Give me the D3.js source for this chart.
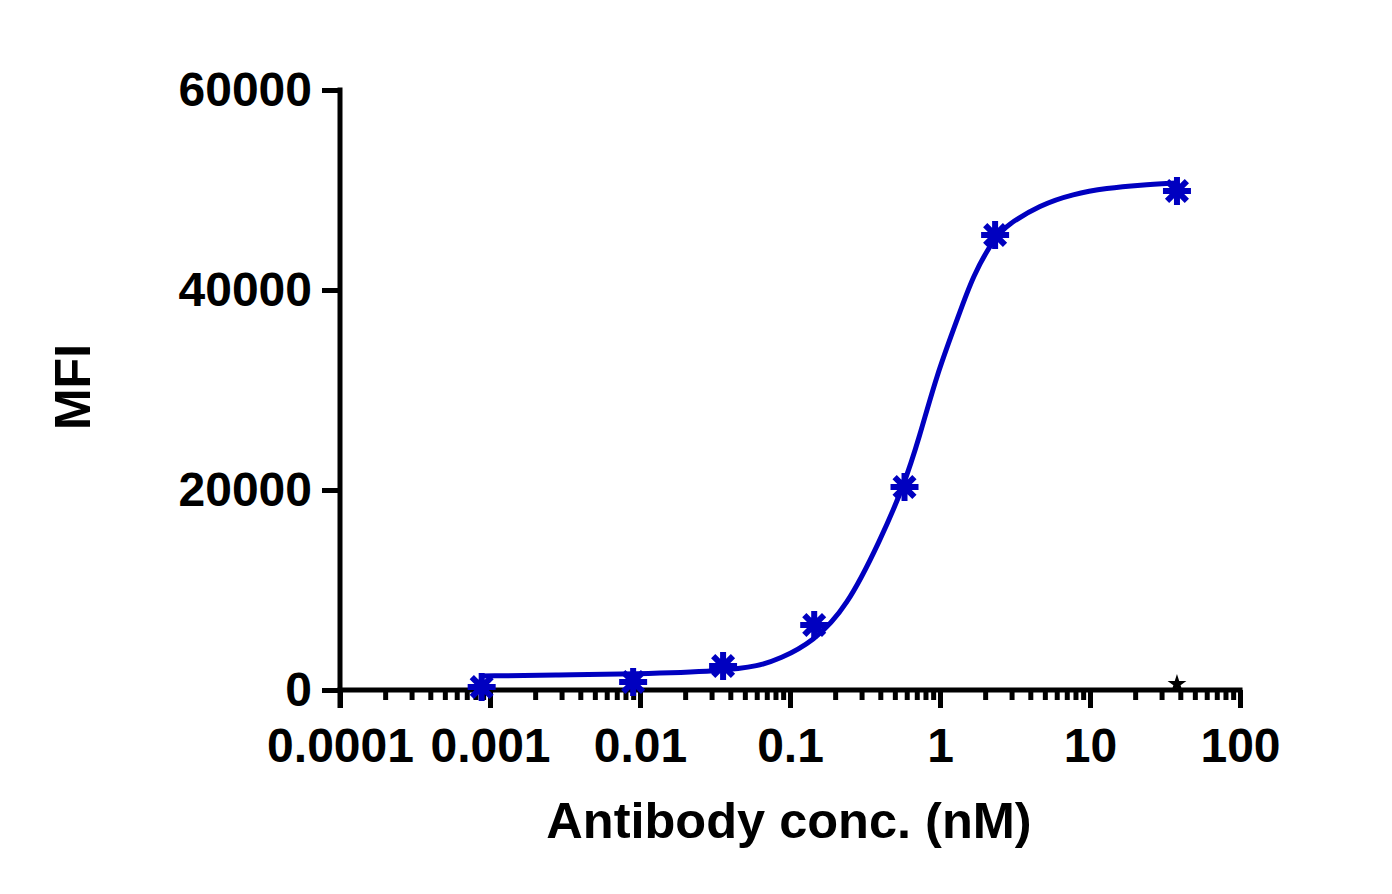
<!DOCTYPE html>
<html>
<head>
<meta charset="utf-8">
<script src="https://cdn.jsdelivr.net/npm/d3@7"></script>
<style>
  body { margin: 0; background: #fff; }
  text { font-family: "Liberation Sans", Arial, sans-serif; font-weight: bold; }
</style>
</head>
<body>
<div id="graphe"></div>
<script>
// donnees
var conc = [0.00088, 0.0090, 0.0358, 0.145, 0.58, 2.33, 38];
var mfi = [300, 800, 2400, 6500, 20300, 45500, 49900];

// controle (etoile noire)
var ctrlConc = [38];
var ctrlMfi = [600];

// courbe ajustee (points relevés le long du trait)
var fitConc = [0.00088, 0.0029, 0.0091, 0.0358, 0.062, 0.0852, 0.1425, 0.24, 0.40, 0.57, 0.73, 0.95, 1.30, 1.66, 2.33, 2.80, 4.64, 7.7, 13.0, 21.5, 38];
var fitMfi = [1400, 1500, 1600, 1900, 2400, 3100, 4800, 8300, 15000, 20300, 25300, 31500, 37000, 41500, 45300, 46500, 48500, 49600, 50200, 50500, 50700];

var xTicks = [0.0001, 0.001, 0.01, 0.1, 1, 10, 100];
var xTickLabels = ["0.0001", "0.001", "0.01", "0.1", "1", "10", "100"];
var yTicks = [0, 20000, 40000, 60000];

var width = 1392,
    height = 894,
    blue = "#0000c0";

var svg = d3.select("#graphe").append("svg")
    .attr("width", width)
    .attr("height", height);

var x = d3.scaleLog().domain([0.0001, 100]).range([340, 1240]);
var y = d3.scaleLinear().domain([0, 60000]).range([690, 90]);

// graduations mineures 2..9 de chaque decade
var minorTicks = [];
for (var d = -4; d < 2; d++) {
    for (var k = 2; k <= 9; k++) minorTicks.push(k * Math.pow(10, d));
}

// axe X mineur
svg.append("g")
    .attr("transform", "translate(0,690)")
    .call(d3.axisBottom(x).tickValues(minorTicks).tickSize(10).tickSizeOuter(0).tickFormat(""))
    .call(function(g) {
        g.select(".domain").remove();
        g.selectAll("line").attr("stroke", "#000").attr("stroke-width", 5);
    });

// axe X majeur
svg.append("g")
    .attr("transform", "translate(0,690)")
    .call(d3.axisBottom(x).tickValues(xTicks).tickSize(18).tickSizeOuter(0).tickPadding(20)
        .tickFormat(function(d, i) { return xTickLabels[i]; }))
    .call(function(g) {
        g.select(".domain").attr("stroke", "#000").attr("stroke-width", 5)
            .attr("d", "M337.5,0H1242.5");
        g.selectAll("line").attr("stroke", "#000").attr("stroke-width", 5);
        g.selectAll("text").attr("font-size", 48).attr("fill", "#000")
            .style("font-family", "'Liberation Sans', Arial, sans-serif").style("font-weight", "bold");
    });

// axe Y
svg.append("g")
    .attr("transform", "translate(340,0)")
    .call(d3.axisLeft(y).tickValues(yTicks).tickSize(18).tickSizeOuter(0).tickPadding(10)
        .tickFormat(d3.format("d")))
    .call(function(g) {
        g.select(".domain").attr("stroke", "#000").attr("stroke-width", 5)
            .attr("d", "M0,87.5V708");
        g.selectAll("line").attr("stroke", "#000").attr("stroke-width", 5);
        g.selectAll("text").attr("font-size", 48).attr("fill", "#000")
            .style("font-family", "'Liberation Sans', Arial, sans-serif").style("font-weight", "bold");
    });

// courbe
var fit = fitConc.map(function(c, i) { return [c, fitMfi[i]]; });
var line = d3.line()
    .x(function(d) { return x(d[0]); })
    .y(function(d) { return y(d[1]); })
    .curve(d3.curveBasis);

svg.append("path")
    .datum(fit)
    .attr("d", line)
    .attr("fill", "none")
    .attr("stroke", blue)
    .attr("stroke-width", 5);

// asterisques 8 branches
function asterisk(r) {
    var p = d3.path(), a = r * Math.SQRT1_2;
    p.moveTo(0, -r); p.lineTo(0, r);
    p.moveTo(-r, 0); p.lineTo(r, 0);
    p.moveTo(-a, -a); p.lineTo(a, a);
    p.moveTo(-a, a); p.lineTo(a, -a);
    return p.toString();
}

svg.selectAll(".pt")
    .data(conc)
    .enter()
    .append("path")
    .attr("class", "pt")
    .attr("transform", function(d, i) { return "translate(" + x(d) + "," + y(mfi[i]) + ")"; })
    .attr("d", asterisk(14))
    .attr("stroke", blue)
    .attr("stroke-width", 6)
    .attr("fill", "none");

svg.selectAll(".ctrl")
    .data(ctrlConc)
    .enter()
    .append("path")
    .attr("class", "ctrl")
    .attr("transform", function(d, i) { return "translate(" + x(d) + "," + y(ctrlMfi[i]) + ")"; })
    .attr("d", d3.symbol().type(d3.symbolStar).size(110))
    .attr("fill", "#000");

// titres
svg.append("text")
    .attr("x", 789)
    .attr("y", 838)
    .attr("text-anchor", "middle")
    .attr("font-size", 50.5)
    .attr("fill", "#000")
    .text("Antibody conc. (nM)");

svg.append("text")
    .attr("transform", "translate(90,387) rotate(-90)")
    .attr("text-anchor", "middle")
    .attr("font-size", 50)
    .attr("fill", "#000")
    .text("MFI");
</script>
</body>
</html>
